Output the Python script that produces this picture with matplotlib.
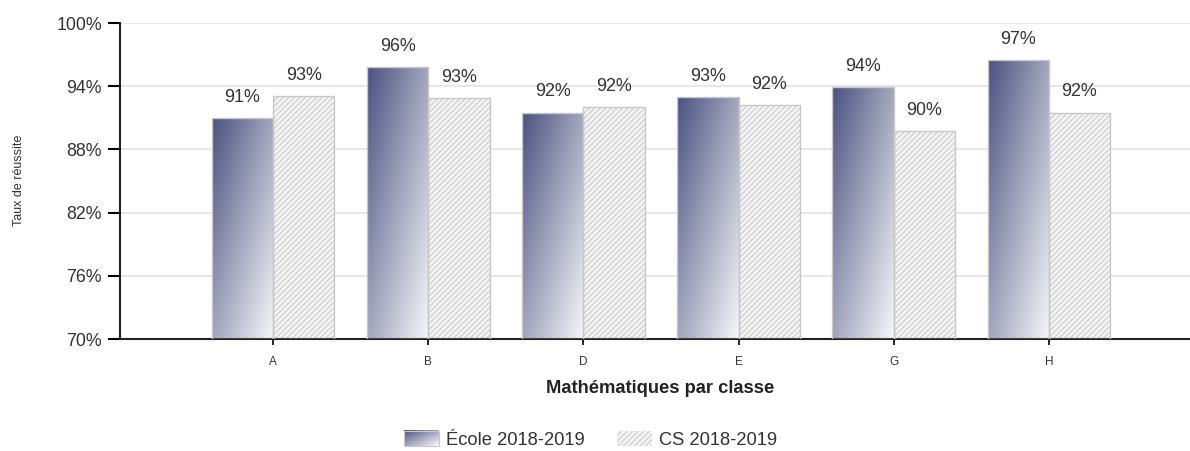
import numpy as np
import matplotlib
matplotlib.use("Agg")
import matplotlib.pyplot as plt
from matplotlib.patches import Rectangle
from matplotlib.colors import LinearSegmentedColormap
from matplotlib.image import BboxImage
from matplotlib.transforms import Bbox, TransformedBbox
from matplotlib.legend_handler import HandlerBase

plt.rcParams['font.family'] = ['Liberation Sans', 'DejaVu Sans']

classes = ['A', 'B', 'D', 'E', 'G', 'H']
ecole = [91.0, 95.8, 91.5, 93.0, 93.9, 96.5]
cs = [93.1, 92.9, 92.0, 92.2, 89.7, 91.5]
ecole_labels = ['91%', '96%', '92%', '93%', '94%', '97%']
cs_labels = ['93%', '93%', '92%', '92%', '90%', '92%']
yticks = [70, 76, 82, 88, 94, 100]

grad = LinearSegmentedColormap.from_list('grad', ['#4b5280', '#a2a6bd', '#f6f6fa'])
# diagonal gradient: dark top-left -> white bottom-right
gx, gy = np.meshgrid(np.linspace(0, 1, 60), np.linspace(0, 1, 200))
grad_img = (gx + gy) / 2.0

text_col = '#333333'


class GradientHandler(HandlerBase):
    def create_artists(self, legend, orig_handle, xdescent, ydescent,
                       width, height, fontsize, trans):
        bb = Bbox.from_bounds(-xdescent, -ydescent, width, height)
        im = BboxImage(TransformedBbox(bb, trans), cmap=grad, origin='upper',
                       interpolation='bilinear')
        hx, hy = np.meshgrid(np.linspace(0, 1, 40), np.linspace(0, 1, 20))
        im.set_data((hx + hy) / 2.0)
        im.set_clim(0, 1)
        border = Rectangle((-xdescent, -ydescent), width, height, facecolor='none',
                           edgecolor='#c8c8c8', lw=0.8, transform=trans)
        return [im, border]


fig = plt.figure(figsize=(11.9, 4.51), dpi=100)
ax = fig.add_axes([0.1008, 0.2483, 0.8992, 0.7007])

x = np.arange(len(classes))
w = 0.395

for i in range(len(classes)):
    # école bar with gradient fill
    x0 = x[i] - w
    img = ax.imshow(grad_img, cmap=grad, vmin=0, vmax=1, aspect='auto',
                    extent=(x0, x0 + w, 70, ecole[i]), origin='upper',
                    interpolation='bilinear', zorder=2)
    border = Rectangle((x0, 70), w, ecole[i] - 70, facecolor='none',
                       edgecolor='#c8c8c8', lw=1.0, zorder=3)
    ax.add_patch(border)
    img.set_clip_path(border)
    ax.text(x[i] - w / 2, ecole[i] + 1.15, ecole_labels[i], ha='center', va='bottom',
            fontsize=12.9, color=text_col)

cs_bars = ax.bar(x + w / 2, [v - 70 for v in cs], w, bottom=70, color='#dcdcdc',
                 edgecolor='white', hatch='//////', lw=0, zorder=2)
ax.bar(x + w / 2, [v - 70 for v in cs], w, bottom=70, color='none',
       edgecolor='#c8c8c8', lw=1.0, zorder=3)
for i in range(len(classes)):
    ax.text(x[i] + w / 2, cs[i] + 1.15, cs_labels[i], ha='center', va='bottom',
            fontsize=12.9, color=text_col)

ax.set_xlim(-0.987, 5.91)
ax.set_ylim(70, 100)
ax.set_yticks(yticks)
ax.set_yticklabels([f'{t}%' for t in yticks], fontsize=12.8, color=text_col)
ax.set_xticks(x)
ax.set_xticklabels(classes, fontsize=8.5, color=text_col)
ax.tick_params(axis='y', length=9, width=1.5, pad=4)
ax.tick_params(axis='x', length=4, width=1.2, pad=8)
ax.grid(axis='y', color='#e3e3e3', lw=1.2, zorder=0)
ax.set_axisbelow(True)
for s in ['top', 'right']:
    ax.spines[s].set_visible(False)
for s in ['left', 'bottom']:
    ax.spines[s].set_linewidth(1.5)
    ax.spines[s].set_color('#222222')

ax.set_xlabel('Mathématiques par classe', fontsize=13.2, fontweight='bold',
              color='#222222')
ax.xaxis.set_label_coords(0.5047, -0.129)
fig.text(0.016, 0.6, 'Taux de réussite', rotation=90, ha='center', va='center',
         fontsize=9, color=text_col)

ecole_handle = Rectangle((0, 0), 1, 1)
cs_handle = Rectangle((0, 0), 1, 1, facecolor='#dcdcdc', edgecolor='white',
                      hatch='//////', lw=0)
leg = fig.legend([ecole_handle, cs_handle], ['École 2018-2019', 'CS 2018-2019'],
                 handler_map={ecole_handle: GradientHandler()},
                 loc='center', bbox_to_anchor=(0.4962, 0.025), ncol=2, frameon=False,
                 fontsize=13.2, handlelength=1.9, handleheight=0.95,
                 columnspacing=1.75, handletextpad=0.38)
for t in leg.get_texts():
    t.set_color(text_col)

fig.savefig('out.png', dpi=100)
